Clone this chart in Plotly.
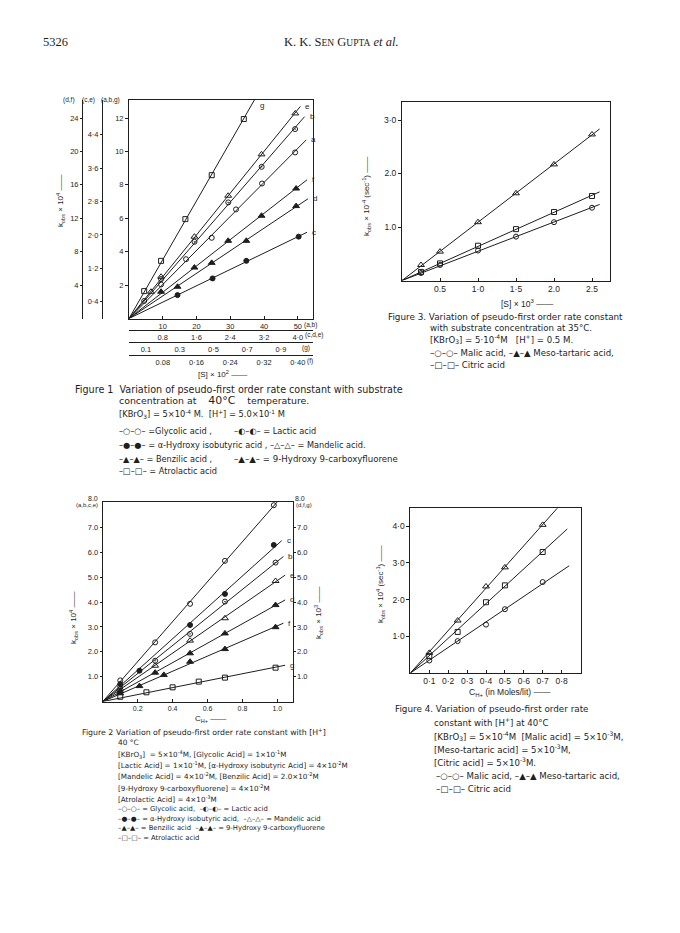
import numpy as np
import plotly.graph_objects as go

W, H = 680, 933
INK = "#1e1e1e"
FONT = "Liberation Sans"
CAP = "DejaVu Sans"
SERIF = "Liberation Serif"


def px(x):
    return x / W


def py(y):
    return 1 - y / H


# ---------------- Figure 1 data (each series in its own axis units) ----------------
# main axes: x = [S]x10^2 (a,b), y = kobs (a,b,g)
f1_a_x = [4.5, 9.5, 16.9, 24.5, 31.7, 39.4, 49.2]
f1_a_y = [1.05, 2.04, 3.55, 4.83, 6.53, 8.08, 9.94]
f1_b_x = [9.5, 19.4, 29.4, 39.3, 49.2]
f1_b_y = [2.36, 4.59, 6.95, 9.08, 11.34]
# g : x on (g) axis, y on (a,b,g) axis
f1_g_x = [0.09, 0.19, 0.334, 0.49, 0.68]
f1_g_y = [1.64, 3.45, 5.95, 8.58, 11.94]
# c, e : x on (c,d,e) axis, y on (c,e) axis
f1_c_x = [1.15, 1.98, 2.78, 4.02]
f1_c_y = [0.56, 0.96, 1.38, 1.96]
f1_e_x = [0.52, 0.76, 1.55, 2.35, 3.14, 3.94]
f1_e_y = [0.64, 1.0, 1.96, 2.94, 3.93, 4.91]
# d : x on (c,d,e) axis, y on (d,f) axis
f1_d_x = [1.15, 1.96, 2.78, 3.96]
f1_d_y = [3.8, 6.66, 9.3, 13.46]
# f : x on (f) axis, y on (d,f) axis
f1_f_x = [0.076, 0.155, 0.235, 0.314, 0.396]
f1_f_y = [3.2, 6.1, 9.3, 12.3, 15.56]
f1_fit_end = {"a": 52.5, "b": 52.0, "g": 0.8, "c": 4.22, "e": 4.06, "d": 4.24, "f": 0.422}

f1_main_ticks = [10, 20, 30, 40, 50]
f1_cde_ticks = [0.8, 1.6, 2.4, 3.2, 4.0]
f1_cde_text = ["0.8", "1·6", "2·4", "3·2", "4·0"]
f1_g_ticks = [0.1, 0.3, 0.5, 0.7, 0.9]
f1_g_text = ["0.1", "0.3", "0·5", "0·7", "0·9"]
f1_f_ticks = [0.08, 0.16, 0.24, 0.32, 0.40]
f1_f_text = ["0.08", "0·16", "0·24", "0·32", "0·40"]
f1_y_ticks = [2, 4, 6, 8, 10, 12]
f1_ce_ticks = [0.4, 1.2, 2.0, 2.8, 3.6, 4.4]
f1_ce_text = ["0·4", "1·2", "2·0", "2·8", "3·6", "4·4"]
f1_df_ticks = [4, 8, 12, 16, 20, 24]

# ---------------- Figure 3 data ----------------
f3_x = [0.25, 0.5, 1.0, 1.5, 2.0, 2.5]
f3_meso = [0.29, 0.54, 1.09, 1.63, 2.17, 2.73]
f3_citric = [0.16, 0.32, 0.65, 0.96, 1.28, 1.58]
f3_malic = [0.14, 0.29, 0.56, 0.82, 1.09, 1.36]
f3_fit_end = 2.6
f3_xticks = [0.5, 1.0, 1.5, 2.0, 2.5]
f3_xtext = ["0.5", "1·0", "1·5", "2.0", "2.5"]
f3_yticks = [1.0, 2.0, 3.0]
f3_ytext = ["1.0", "2.0", "3·0"]

# ---------------- Figure 2 data ----------------
f2_a_x = [0.1, 0.3, 0.5, 0.7, 0.98]
f2_a_y = [0.85, 2.38, 3.93, 5.66, 7.9]
f2_b_x = [0.1, 0.3, 0.5, 0.7, 0.99]
f2_b_y = [0.6, 1.64, 2.72, 4.02, 5.59]
f2_c_x = [0.1, 0.21, 0.5, 0.7, 0.98]
f2_c_y = [0.7, 1.24, 3.08, 4.33, 6.3]
f2_e_x = [0.1, 0.3, 0.5, 0.7, 0.99]
f2_e_y = [0.52, 1.44, 2.45, 3.35, 4.85]
f2_d_x = [0.1, 0.3, 0.5, 0.7, 0.99]
f2_d_y = [0.42, 1.16, 1.94, 2.74, 3.88]
f2_f_x = [0.1, 0.21, 0.35, 0.5, 0.7, 0.99]
f2_f_y = [0.33, 0.62, 1.07, 1.6, 2.11, 2.99]
f2_g_x = [0.1, 0.25, 0.4, 0.55, 0.7, 0.99]
f2_g_y = [0.19, 0.37, 0.57, 0.8, 0.96, 1.36]
f2_fit_end = {"a": 1.01, "c": 1.025, "b": 1.035, "e": 1.045, "d": 1.045, "f": 1.035, "g": 1.045}
f2_xticks = [0.2, 0.4, 0.6, 0.8, 1.0]
f2_xtext = ["0.2", "0.4", "0.6", "0.8", "1.0"]
f2_yticks = [1, 2, 3, 4, 5, 6, 7]
f2_ytext = ["1.0", "2.0", "3.0", "4.0", "5.0", "6.0", "7.0"]

# ---------------- Figure 4 data ----------------
f4_x = [0.1, 0.25, 0.4, 0.5, 0.7]
f4_meso = [0.55, 1.43, 2.36, 2.88, 4.04]
f4_citric = [0.46, 1.12, 1.93, 2.39, 3.30]
f4_malic = [0.34, 0.87, 1.32, 1.74, 2.48]
f4_fit_end = {"meso": 0.8, "citric": 0.83, "malic": 0.84}
f4_xticks = [0.1, 0.2, 0.3, 0.4, 0.5, 0.6, 0.7, 0.8]
f4_xtext = ["0·1", "0·2", "0·3", "0·4", "0·5", "0·6", "0·7", "0·8"]
f4_yticks = [1.0, 2.0, 3.0, 4.0]
f4_ytext = ["1·0", "2·0", "3·0", "4·0"]

SYM = {"a": "circle-open", "b": "circle-open-dot", "c": "circle", "d": "triangle-up",
       "e": "triangle-up-open", "f": "triangle-up", "g": "square-open"}

fig = go.Figure()
annotations = []


def fit_line(x, y, end):
    x = np.asarray(x, float)
    y = np.asarray(y, float)
    k = float(np.sum(x * y) / np.sum(x * x))
    return [0.0, end], [0.0, k * end]


def add_series(x, y, xa, ya, sym, end, label=None, size=5, lshift=(3, 0)):
    lx, ly = fit_line(x, y, end)
    fig.add_trace(go.Scatter(x=lx, y=ly, xaxis=xa, yaxis=ya, mode="lines",
                             line=dict(color=INK, width=1), hoverinfo="skip"))
    fig.add_trace(go.Scatter(x=x, y=y, xaxis=xa, yaxis=ya, mode="markers",
                             marker=dict(symbol=sym, size=size, color=INK,
                                         line=dict(color=INK, width=1)),
                             hoverinfo="skip"))
    if label:
        annotations.append(dict(x=lx[1], y=ly[1], xref=xa, yref=ya, text=label,
                                showarrow=False, xanchor="left", yanchor="middle",
                                xshift=lshift[0], yshift=lshift[1],
                                font=dict(family=FONT, size=8, color=INK)))


# Figure 1
add_series(f1_a_x, f1_a_y, "x", "y", SYM["a"], f1_fit_end["a"], "a")
add_series(f1_b_x, f1_b_y, "x", "y", SYM["b"], f1_fit_end["b"], "b")
add_series(f1_g_x, f1_g_y, "x3", "y", SYM["g"], f1_fit_end["g"])
add_series(f1_c_x, f1_c_y, "x2", "y2", SYM["c"], f1_fit_end["c"], "c")
add_series(f1_e_x, f1_e_y, "x2", "y2", SYM["e"], f1_fit_end["e"], "e", size=6)
add_series(f1_d_x, f1_d_y, "x2", "y3", SYM["d"], f1_fit_end["d"], "d", size=6)
add_series(f1_f_x, f1_f_y, "x4", "y3", SYM["f"], f1_fit_end["f"], "f", size=6)
# g label where its line leaves the top of the frame
g_k = float(np.sum(np.array(f1_g_x) * np.array(f1_g_y)) / np.sum(np.array(f1_g_x) ** 2))
annotations.append(dict(x=13.08 / g_k, y=13.08, xref="x3", yref="y", text="g", showarrow=False,
                        xanchor="left", yanchor="middle", xshift=4, yshift=-5,
                        font=dict(family=FONT, size=8, color=INK)))

# Figure 3
add_series(f3_x, f3_meso, "x5", "y4", "triangle-up-open", f3_fit_end, size=6)
add_series(f3_x, f3_citric, "x5", "y4", "square-open", f3_fit_end)
add_series(f3_x, f3_malic, "x5", "y4", "circle-open", f3_fit_end)

# Figure 2
add_series(f2_a_x, f2_a_y, "x6", "y5", SYM["a"], f2_fit_end["a"], "a")
add_series(f2_c_x, f2_c_y, "x6", "y5", SYM["c"], f2_fit_end["c"], "c")
add_series(f2_b_x, f2_b_y, "x6", "y5", SYM["b"], f2_fit_end["b"], "b")
add_series(f2_e_x, f2_e_y, "x6", "y5", SYM["e"], f2_fit_end["e"], "e", size=6)
add_series(f2_d_x, f2_d_y, "x6", "y6", SYM["d"], f2_fit_end["d"], "d", size=6)
add_series(f2_f_x, f2_f_y, "x6", "y6", SYM["f"], f2_fit_end["f"], "f", size=6)
add_series(f2_g_x, f2_g_y, "x6", "y6", SYM["g"], f2_fit_end["g"], "g")

# Figure 4
add_series(f4_x, f4_meso, "x7", "y7", "triangle-up-open", f4_fit_end["meso"], size=6)
add_series(f4_x, f4_citric, "x7", "y7", "square-open", f4_fit_end["citric"])
add_series(f4_x, f4_malic, "x7", "y7", "circle-open", f4_fit_end["malic"])


def ax(**kw):
    base = dict(showgrid=False, zeroline=False, showline=True, linecolor=INK, linewidth=1,
                ticks="outside", ticklen=3, tickcolor=INK, tickwidth=1,
                tickfont=dict(family=FONT, size=7.5, color=INK), fixedrange=True)
    base.update(kw)
    return base


# Figure 1 geometry
F1_L, F1_R, F1_T, F1_B = 129, 313, 100, 318.5
MX = 54.5
MY = 13.08
f1_xdom = [px(F1_L), px(F1_R)]
f1_ydom = [py(F1_B), py(F1_T)]

layout = dict(
    width=W, height=H, margin=dict(l=0, r=0, t=0, b=0),
    paper_bgcolor="white", plot_bgcolor="white", showlegend=False,
    xaxis=ax(domain=f1_xdom, range=[0, MX], anchor="y", mirror=True, ticks="inside",
             tickvals=f1_main_ticks, ticktext=[str(v) for v in f1_main_ticks]),
    yaxis=ax(domain=f1_ydom, range=[0, MY], anchor="x", mirror=True,
             tickvals=f1_y_ticks, ticktext=[str(v) for v in f1_y_ticks]),
    xaxis2=ax(domain=f1_xdom, range=[0, MX * 0.08], overlaying="x", anchor="free",
              position=py(330), ticks="", tickvals=f1_cde_ticks, ticktext=f1_cde_text),
    xaxis3=ax(domain=f1_xdom, range=[0, MX * 0.02], overlaying="x", anchor="free",
              position=py(342.3), ticks="", tickvals=f1_g_ticks, ticktext=f1_g_text),
    xaxis4=ax(domain=f1_xdom, range=[0, MX * 0.008], overlaying="x", anchor="free",
              position=py(355), ticks="", tickvals=f1_f_ticks, ticktext=f1_f_text),
    yaxis2=ax(domain=f1_ydom, range=[0, MY * 0.4], overlaying="y", anchor="free",
              position=px(102), side="left", ticklen=2, tickvals=f1_ce_ticks, ticktext=f1_ce_text),
    yaxis3=ax(domain=f1_ydom, range=[0, MY * 2.0], overlaying="y", anchor="free",
              position=px(82), side="left", ticklen=2, tickvals=f1_df_ticks,
              ticktext=[str(v) for v in f1_df_ticks]),
    # Figure 3
    xaxis5=ax(domain=[px(402), px(610)], range=[0, (610 - 402) / 76], anchor="y4", mirror=True,
              ticks="inside", tickvals=f3_xticks, ticktext=f3_xtext,
              tickfont=dict(family=FONT, size=8.5, color=INK)),
    yaxis4=ax(domain=[py(280.5), py(101.7)], range=[0, (280.5 - 101.7) / 53.5], anchor="x5",
              mirror=True, tickvals=f3_yticks, ticktext=f3_ytext,
              tickfont=dict(family=FONT, size=8.5, color=INK)),
    # Figure 2
    xaxis6=ax(domain=[px(102.8), px(292.5)], range=[0, (292.5 - 102.8) / 174.5], anchor="y5",
              mirror=True, ticks="inside", tickvals=f2_xticks, ticktext=f2_xtext,
              tickfont=dict(family=FONT, size=7, color=INK)),
    yaxis5=ax(domain=[py(701.5), py(501.7)], range=[0, (701.5 - 501.7) / 24.85], anchor="x6",
              ticklen=2, tickvals=f2_yticks, ticktext=f2_ytext),
    yaxis6=ax(domain=[py(701.5), py(501.7)], range=[0, (701.5 - 501.7) / 24.85], anchor="x6",
              overlaying="y5", side="right", ticklen=2, tickvals=f2_yticks, ticktext=f2_ytext),
    # Figure 4
    xaxis7=ax(domain=[px(410.4), px(580.5)], range=[0, (580.5 - 410.4) / 189], anchor="y7",
              mirror=True, ticks="inside", tickvals=f4_xticks, ticktext=f4_xtext,
              tickfont=dict(family=FONT, size=8.5, color=INK)),
    yaxis7=ax(domain=[py(673), py(508.3)], range=[0, (673 - 508.3) / 36.67], anchor="x7",
              mirror=True, tickvals=f4_yticks, ticktext=f4_ytext,
              tickfont=dict(family=FONT, size=8.5, color=INK)),
)


def txt(x, y, text, size=8.5, anchor="left", angle=0, family=CAP):
    annotations.append(dict(x=px(x), y=py(y), xref="paper", yref="paper", text=text,
                            showarrow=False, xanchor=anchor, yanchor="middle", textangle=angle,
                            font=dict(family=family, size=size, color=INK)))


# header
txt(41, 42, "5326", 12.5, family=SERIF)
txt(341, 42, "K. K. S<span style='font-size:9.5px'>EN</span> G<span style='font-size:9.5px'>UPTA</span> <i>et al.</i>",
    12.5, anchor="center", family=SERIF)

# Figure 1 extra labels
txt(69, 100, "(d,f)", 6.5, anchor="center", family=FONT)
txt(88, 100, "(c,e)", 6.5, anchor="center", family=FONT)
txt(110, 100, "(a,b,g)", 6.5, anchor="center", family=FONT)
txt(302, 324.5, "(a,b)", 6.5, family=FONT)
txt(303, 335.5, "(c,d,e)", 6.5, family=FONT)
txt(300, 347.5, "(g)", 6.5, family=FONT)
txt(305, 361, "(f)", 6.5, family=FONT)
txt(60, 201, "k<sub>obs</sub> × 10<sup>4</sup> ——", 8, anchor="center", angle=-90, family=FONT)
txt(222, 374, "[S] × 10<sup>2</sup> ——", 8, anchor="center", family=FONT)

# Figure 1 caption
txt(73, 389, "Figure 1  Variation of pseudo-first order rate constant with substrate", 9.6)
txt(117, 400, "concentration at    <span style='font-size:11px'>40°C</span>    temperature.", 9.4)
txt(117, 414, "[KBrO<sub>3</sub>] = 5×10<sup>-4</sup> M.  [H<sup>+</sup>] = 5.0×10<sup>-1</sup> M", 8.3)
txt(117, 431, "–○–○– =Glycolic acid ,", 8.2)
txt(232, 431, "–◐–◐– = Lactic acid", 8.2)
txt(117, 445, "–●–●– = α-Hydroxy isobutyric acid , –△–△– = Mandelic acid.", 8.2)
txt(117, 459, "–▲–▲– = Benzilic acid ,", 8.2)
txt(232, 459, "–▲–▲– = 9-Hydroxy 9-carboxyfluorene", 8.6)
txt(117, 471, "–□–□– = Atrolactic acid", 8.2)

# Figure 3 labels / caption
txt(366, 197, "k<sub>obs</sub> × 10<sup>-4</sup> (sec<sup>-1</sup>) ——", 8, anchor="center", angle=-90, family=FONT)
txt(527, 303, "[S] × 10<sup>3</sup> ——", 8.5, anchor="center", family=FONT)
txt(386, 317, "Figure 3. Variation of pseudo-first order rate constant", 8.8)
txt(428, 328, "with substrate concentration at 35°C.", 8.6)
txt(428, 339, "[KBrO<sub>3</sub>] = 5·10<sup>-4</sup>M   [H<sup>+</sup>] = 0.5 M.", 8.6)
txt(428, 353, "–○–○– Malic acid, –▲–▲ Meso-tartaric acid,", 8.6)
txt(428, 365, "–□–□– Citric acid", 8.6)

# Figure 2 labels / caption
txt(93, 499, "8.0", 7, anchor="center", family=FONT)
txt(87, 505, "(a,b,c,e)", 6, anchor="center", family=FONT)
txt(300, 499, "8.0", 7, anchor="center", family=FONT)
txt(304, 505, "(d,f,g)", 6, anchor="center", family=FONT)
txt(73, 618, "k<sub>obs</sub> × 10<sup>4</sup> ——", 8, anchor="center", angle=-90, family=FONT)
txt(318, 613, "k<sub>obs</sub> × 10<sup>3</sup> ——", 8, anchor="center", angle=-90, family=FONT)
txt(210, 719, "C<sub>H+</sub> ——", 8, anchor="center", family=FONT)
txt(80, 732, "Figure 2", 7.8)
txt(114, 732, "Variation of pseudo-first order rate constant with [H<sup>+</sup>]", 7.8)
txt(116, 742, "40 °C", 7.4)
txt(116, 754, "[KBrO<sub>3</sub>]  = 5×10<sup>-4</sup>M, [Glycolic Acid] = 1×10<sup>-1</sup>M", 7.2)
txt(116, 765, "[Lactic Acid] = 1×10<sup>-1</sup>M, [α-Hydroxy isobutyric Acid] = 4×10<sup>-2</sup>M", 7.2)
txt(116, 776, "[Mandelic Acid] = 4×10<sup>-2</sup>M, [Benzilic Acid] = 2.0×10<sup>-2</sup>M", 7.2)
txt(116, 788, "[9-Hydroxy 9-carboxyfluorene] = 4×10<sup>-2</sup>M", 7.2)
txt(116, 799, "[Atrolactic Acid] = 4×10<sup>-3</sup>M", 7.2)
txt(116, 809, "–○–○– = Glycolic acid,  –◐–◐– = Lactic acid", 6.8)
txt(116, 818.5, "–●–●– = α-Hydroxy isobutyric acid,  –△–△– = Mandelic acid", 6.8)
txt(116, 828, "–▲–▲– = Benzilic acid  –▲–▲– = 9-Hydroxy 9-carboxyfluorene", 6.8)
txt(116, 838, "–□–□– = Atrolactic acid", 6.8)

# Figure 4 labels / caption
txt(380, 585, "k<sub>obs</sub> × 10<sup>4</sup> (sec<sup>-1</sup>) ——", 8, anchor="center", angle=-90, family=FONT)
txt(510, 692, "C<sub>H+</sub> (in Moles/lit) ——", 8.5, anchor="center", family=FONT)
txt(393, 709, "Figure 4. Variation of pseudo-first order rate", 8.8)
txt(432, 722, "constant with [H<sup>+</sup>] at 40°C", 8.6)
txt(432, 736, "[KBrO<sub>3</sub>] = 5×10<sup>-4</sup>M  [Malic acid] = 5×10<sup>-3</sup>M,", 8.6)
txt(432, 749, "[Meso-tartaric acid] = 5×10<sup>-3</sup>M,", 8.6)
txt(432, 762, "[Citric acid] = 5×10<sup>-3</sup>M.", 8.6)
txt(434, 776, "–○–○– Malic acid, –▲–▲ Meso-tartaric acid,", 8.6)
txt(434, 789, "–□–□– Citric acid", 8.6)

layout["annotations"] = annotations
fig.update_layout(**layout)
fig.write_html("out.html", config={"displayModeBar": False, "staticPlot": True},
               post_script="document.body.style.margin='0';document.body.style.overflow='hidden';")
